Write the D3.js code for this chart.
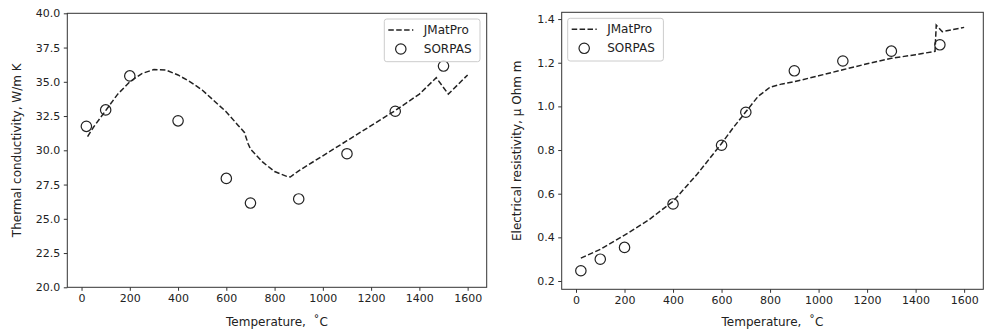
<!doctype html>
<html>
<head>
<meta charset="utf-8">
<style>
  body { margin: 0; background: white; }
  text { font-family: "DejaVu Sans", sans-serif; fill: #222; }
  .domain { display: none; }
  .tick line { stroke: #333; }
  .tick text { font-size: 11px; }
  .jmat { fill: none; stroke: #222; stroke-width: 1.5; stroke-dasharray: 5.5,2.4; }
  .sorpas { fill: none; stroke: #222; stroke-width: 1.2; }
</style>
<script src="https://d3js.org/d3.v7.min.js"></script>
</head>
<body>
<svg width="985" height="331" id="fig"></svg>
<script>
// measured temperatures (degC)
var sorpasTemps = [20, 100, 200, 400, 600, 700, 900, 1100, 1300, 1500];

// thermal conductivity, W/m K
var sorpasCond = [31.75, 32.95, 35.43, 32.15, 27.95, 26.15, 26.45, 29.75, 32.85, 36.15];
var jmatTempsCond = [25, 50, 100, 150, 200, 250, 300, 350, 400, 450, 500, 550, 600, 650, 675, 690, 700, 750, 800, 850, 865, 900, 1000, 1100, 1200, 1300, 1400, 1470, 1520, 1600];
var jmatCond = [31.0, 31.7, 32.9, 34.1, 35.0, 35.6, 35.9, 35.85, 35.5, 35.0, 34.4, 33.6, 32.8, 31.8, 31.3, 30.5, 30.1, 29.15, 28.45, 28.1, 28.05, 28.5, 29.6, 30.7, 31.8, 32.9, 34.1, 35.3, 34.1, 35.5];

// electrical resistivity, micro Ohm m
var sorpasRes = [0.247, 0.300, 0.354, 0.553, 0.822, 0.973, 1.163, 1.208, 1.253, 1.282];
var jmatTempsRes = [20, 100, 200, 300, 400, 500, 600, 650, 700, 750, 800, 850, 900, 1000, 1100, 1200, 1300, 1400, 1480, 1485, 1510, 1600];
var jmatRes = [0.305, 0.345, 0.41, 0.48, 0.565, 0.69, 0.83, 0.905, 0.975, 1.045, 1.088, 1.103, 1.113, 1.14, 1.168, 1.195, 1.22, 1.237, 1.252, 1.372, 1.342, 1.362];

var xTicks = [0, 200, 400, 600, 800, 1000, 1200, 1400, 1600];
var condTicks = [20, 22.5, 25, 27.5, 30, 32.5, 35, 37.5, 40];
var resTicks = [0.2, 0.4, 0.6, 0.8, 1.0, 1.2, 1.4];

var svg = d3.select("#fig");

function panel(box, yDomain, yTicks, yFmt, yLabel, jT, jV, sV, legendPos) {
    var x = d3.scaleLinear().domain([-59, 1679]).range([box.left, box.right]);
    var y = d3.scaleLinear().domain(yDomain).range([box.bottom, box.top]);

    var g = svg.append("g");

    g.append("g")
     .attr("transform", "translate(0," + box.bottom + ")")
     .call(d3.axisBottom(x).tickValues(xTicks).tickSize(3.5).tickPadding(3.5).tickFormat(d3.format("d")));

    g.append("g")
     .attr("transform", "translate(" + box.left + ",0)")
     .call(d3.axisLeft(y).tickValues(yTicks).tickSize(3.5).tickPadding(3.5).tickFormat(d3.format(yFmt)));

    // frame
    g.append("rect")
     .attr("x", box.left).attr("y", box.top)
     .attr("width", box.right - box.left).attr("height", box.bottom - box.top)
     .attr("fill", "none").attr("stroke", "#333").attr("stroke-width", 1);

    var line = d3.line()
        .x(function(d) { return x(d[0]); })
        .y(function(d) { return y(d[1]); });

    g.append("path")
     .datum(d3.zip(jT, jV))
     .attr("class", "jmat")
     .attr("d", line);

    g.selectAll(".pt")
     .data(d3.zip(sorpasTemps, sV))
     .enter().append("circle")
     .attr("class", "sorpas")
     .attr("cx", function(d) { return x(d[0]); })
     .attr("cy", function(d) { return y(d[1]); })
     .attr("r", 5.2);

    // axis labels
    g.append("text")
     .attr("x", (box.left + box.right) / 2)
     .attr("y", 326)
     .attr("text-anchor", "middle")
     .attr("font-size", "12px")
     .text("Temperature,\u00A0\u00A0\u02DAC");

    g.append("text")
     .attr("transform", "translate(" + box.ylab + "," + (box.top + box.bottom) / 2 + ") rotate(-90)")
     .attr("text-anchor", "middle")
     .attr("dy", "0.35em")
     .attr("font-size", "12px")
     .text(yLabel);

    // legend
    var lg = g.append("g").attr("transform", "translate(" + legendPos[0] + "," + legendPos[1] + ")");
    lg.append("rect")
      .attr("width", 95.7).attr("height", 42.7).attr("rx", 2.5)
      .attr("fill", "white").attr("fill-opacity", 0.8)
      .attr("stroke", "#ccc").attr("stroke-width", 1);
    lg.append("line")
      .attr("class", "jmat")
      .attr("x1", 4).attr("x2", 29).attr("y1", 11).attr("y2", 11);
    lg.append("circle")
      .attr("class", "sorpas")
      .attr("cx", 16.5).attr("cy", 30).attr("r", 5.2);
    lg.append("text").attr("x", 39.5).attr("y", 11).attr("dy", "0.35em")
      .attr("font-size", "12px").text("JMatPro");
    lg.append("text").attr("x", 39.5).attr("y", 30).attr("dy", "0.35em")
      .attr("font-size", "12px").text("SORPAS");
}

panel({left: 67.3, right: 486.7, top: 13.3, bottom: 287.3, ylab: 17},
      [20, 40], condTicks, ".1f", "Thermal conductivity, W/m K",
      jmatTempsCond, jmatCond, sorpasCond, [384.3, 19]);

panel({left: 561.7, right: 983.3, top: 12.3, bottom: 289.3, ylab: 517},
      [0.162, 1.431], resTicks, ".1f", "Electrical resistivity, \u03BC Ohm m",
      jmatTempsRes, jmatRes, sorpasRes, [567.7, 18.3]);
</script>
</body>
</html>
